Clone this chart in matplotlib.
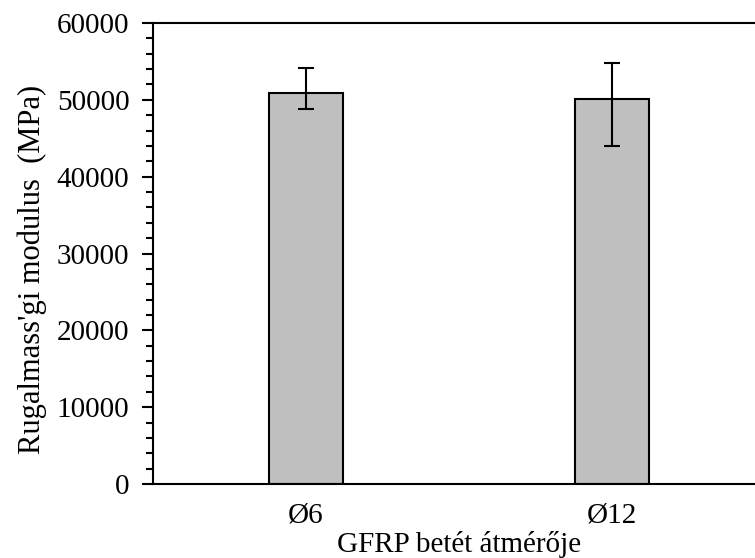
import numpy as np
import matplotlib

matplotlib.use('Agg')
import matplotlib.pyplot as plt
from matplotlib.ticker import MultipleLocator

plt.rcParams['font.family'] = ['Liberation Serif', 'DejaVu Serif']
plt.rcParams['font.size'] = 21

categories = ['Ø6', 'Ø12']
modulus = [50890, 50110]
err_low = [2080, 6080]
err_high = [3250, 4650]

fig = plt.figure(figsize=(7.55, 5.58), dpi=100)
ax = fig.add_axes([153 / 755, 74 / 558, 612 / 755, 461 / 558])

x = np.arange(len(categories))
ax.bar(x, modulus, width=0.24, color='#bfbfbf', edgecolor='black', linewidth=1.5,
       yerr=[err_low, err_high], capsize=6,
       error_kw=dict(ecolor='black', elinewidth=1.5, capthick=1.5))

ax.set_xlim(-0.5, 1.5)
ax.set_ylim(0, 60000)
ax.set_xticks(x)
ax.set_xticklabels(categories)
ax.tick_params(axis='x', length=0, pad=13)
ax.yaxis.set_major_locator(MultipleLocator(10000))
ax.yaxis.set_minor_locator(MultipleLocator(2000))
ax.tick_params(axis='y', which='major', direction='out', length=8, width=1.5, pad=9)
ax.tick_params(axis='y', which='minor', direction='out', length=5, width=1.5)

for s in ['top', 'bottom', 'left']:
    ax.spines[s].set_linewidth(1.5)
ax.spines['right'].set_visible(False)

ax.set_xlabel('GFRP betét átmérője')
ax.xaxis.set_label_coords(0.5, -60 / 461)
ax.xaxis.label.set_va('center')
ax.set_ylabel("Rugalmass'gi modulus  (MPa)", fontsize=22)
ax.yaxis.set_label_coords(-121 / 612, (484 - 269) / 461)
ax.yaxis.label.set_va('center')

plt.savefig('out.png', dpi=100)
